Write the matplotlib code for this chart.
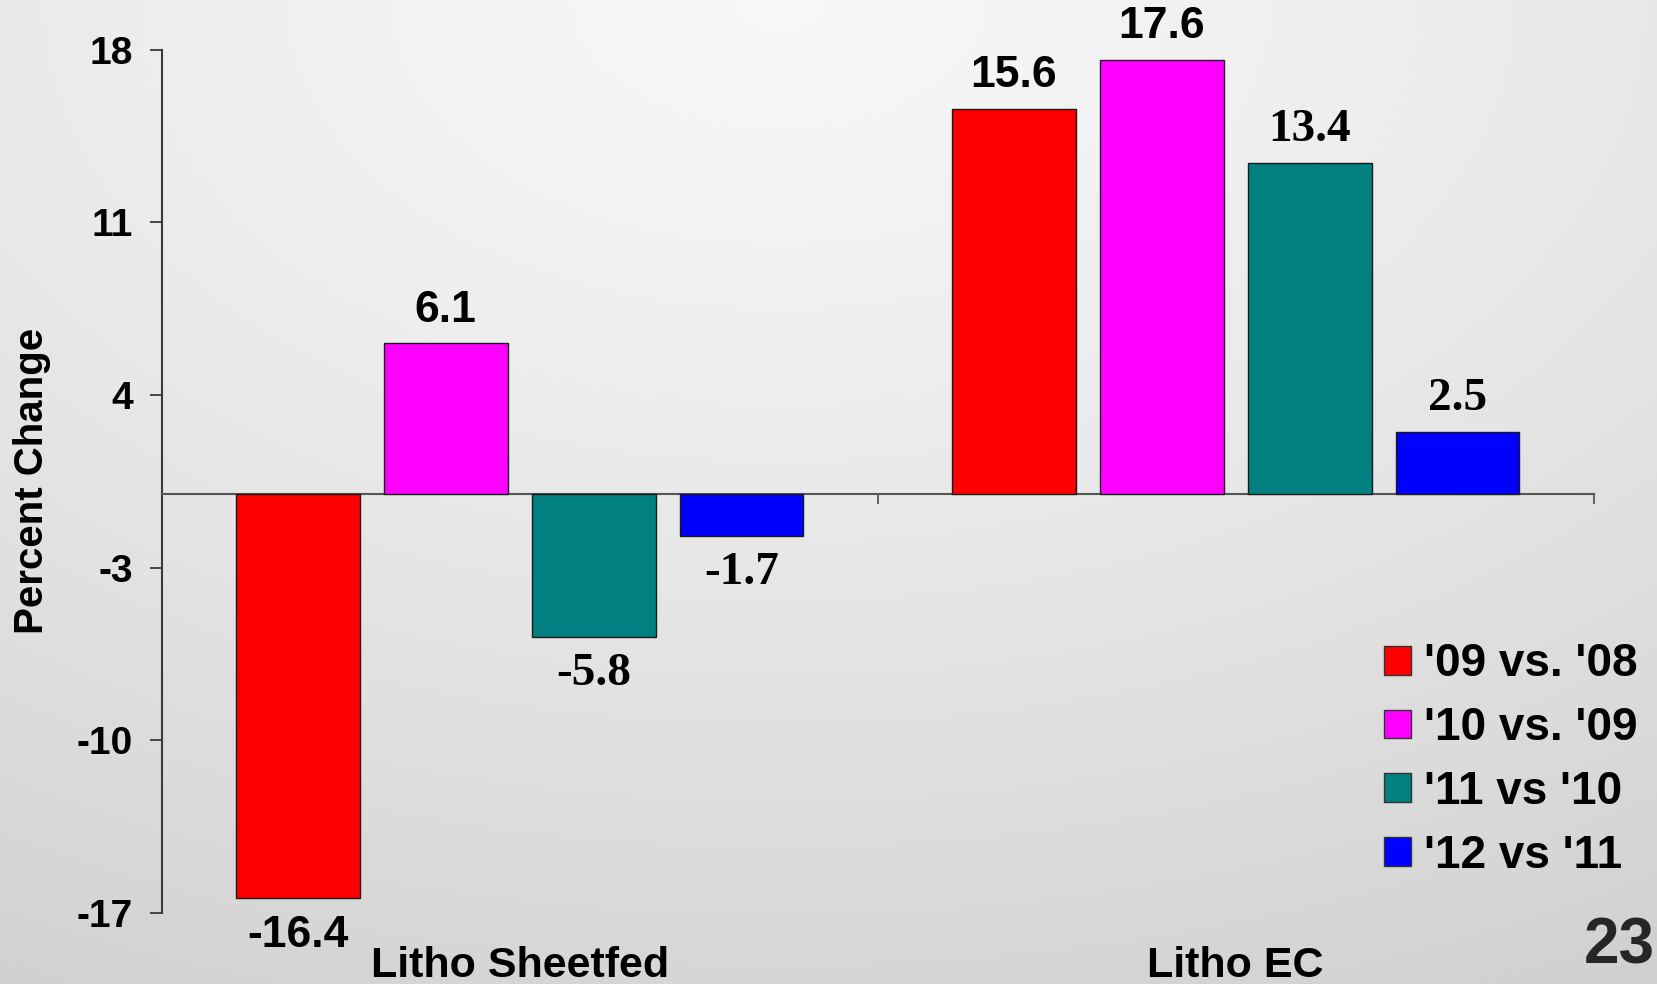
import numpy as np
import matplotlib
matplotlib.use("Agg")
import matplotlib.pyplot as plt
from matplotlib.patches import Patch
import matplotlib.transforms as mtransforms

# ---- data ----
categories = ["Litho Sheetfed", "Litho EC"]
series_names = ["'09 vs. '08", "'10 vs. '09", "'11 vs '10", "'12 vs '11"]
series_colors = ["#ff0000", "#ff00ff", "#008080", "#0000ff"]
values_0908 = [-16.4, 15.6]
values_1009 = [6.1, 17.6]
values_1110 = [-5.8, 13.4]
values_1211 = [-1.7, 2.5]
yticks = [-17, -10, -3, 4, 11, 18]
ylabel = "Percent Change"
page_number = "23"

series_values = [values_0908, values_1009, values_1110, values_1211]
# label font per bar (sans = Arial-like, serif = Times-like), as seen in the picture
label_serif = [[False, False], [False, False], [True, True], [True, True]]

W, H, DPI = 1657, 984, 100
fig = plt.figure(figsize=(W / DPI, H / DPI), dpi=DPI)

# background: soft light-gray gradient, brightest at top centre
bg = fig.add_axes([0, 0, 1, 1], zorder=-10)
yy, xx = np.mgrid[0:1:200j, 0:1:340j]
d = np.sqrt(((xx - 0.47) / 0.95) ** 2 + (yy / 1.0) ** 2)
lum = 0.97 - 0.13 * np.clip(d, 0, 1.3) ** 1.3
img = np.dstack([lum, lum, lum])
bg.imshow(img, aspect="auto", extent=[0, 1, 1, 0], interpolation="bilinear")
bg.set_axis_off()

left, right = 161.7 / W, 1593.7 / W
bottom, top = (H - 913.0) / H, (H - 49.7) / H
ax = fig.add_axes([left, bottom, right - left, top - bottom])
ax.patch.set_alpha(0)

x = np.arange(len(categories))
step = 140 / 677.5
width = 117 / 677.5
offsets = (np.arange(len(series_names)) - 1.5) * step

sans = "Liberation Sans"
serif = "Liberation Serif"
for i, (name, vals, col) in enumerate(zip(series_names, series_values, series_colors)):
    bars = ax.bar(x + offsets[i], vals, width, color=col, edgecolor="#1a1a1a",
                  linewidth=1.0, label=name, zorder=3)
    for j, (b, v) in enumerate(zip(bars, vals)):
        is_serif = label_serif[i][j]
        fam = serif if is_serif else sans
        fs = 34 if is_serif else 32
        cx = b.get_x() + b.get_width() / 2
        if v >= 0:
            ax.annotate(f"{v:g}", (cx, v), xytext=(0, 9), textcoords="offset points",
                        ha="center", va="bottom", fontsize=fs, fontweight="bold",
                        family=fam, color="black", clip_on=False)
        else:
            ax.annotate(f"{v:g}", (cx, v), xytext=(0, -12), textcoords="offset points",
                        ha="center", va="top", fontsize=fs, fontweight="bold",
                        family=fam, color="black", clip_on=False)

ax.set_xlim(-0.5, 1.5)
ax.set_ylim(-17, 18)

# spines
axis_col = "#3a3a3a"
for s in ["top", "right"]:
    ax.spines[s].set_visible(False)
ax.spines["bottom"].set_position(("data", 0))
ax.spines["bottom"].set_color("#555555")
ax.spines["bottom"].set_linewidth(1.5)
ax.spines["left"].set_color(axis_col)
ax.spines["left"].set_linewidth(1.5)

ax.set_yticks(yticks)
ax.set_yticklabels([str(t) for t in yticks], fontsize=28, fontweight="bold", family=sans)
ax.tick_params(axis="y", direction="out", length=8.6, width=1.3, color=axis_col, pad=12)

ax.set_xticks([0.5, 1.5])
ax.set_xticklabels(["", ""])
ax.tick_params(axis="x", direction="out", length=7, width=1.3, color="#555555")

# category labels near the bottom of the figure
trans = mtransforms.blended_transform_factory(ax.transData, fig.transFigure)
for xi, cat in zip(x, categories):
    ax.text(xi, (H - 966) / H, cat, transform=trans, ha="center", va="center",
            fontsize=31, fontweight="bold", family=sans, color="black", clip_on=False)

# y label
fig.text(32 / W, (H - 481) / H, ylabel, rotation=90, ha="center", va="center",
         fontsize=29, fontweight="bold", family=sans, color="black")

# legend
handles = [Patch(facecolor=c, edgecolor="#333333", linewidth=1.0) for c in series_colors]
leg = fig.legend(handles, series_names, loc="center left",
                 bbox_to_anchor=(1384 / W, (H - 760) / H), frameon=False,
                 prop={"family": sans, "weight": "bold", "size": 33},
                 handlelength=0.58, handleheight=0.58, handletextpad=0.3,
                 labelspacing=0.43, borderpad=0, borderaxespad=0)

# page number
fig.text(1655 / W, (H - 946) / H, page_number, ha="right", va="center",
         fontsize=46, fontweight="bold", color="#262626", family=sans)

fig.savefig("out.png", dpi=DPI)
